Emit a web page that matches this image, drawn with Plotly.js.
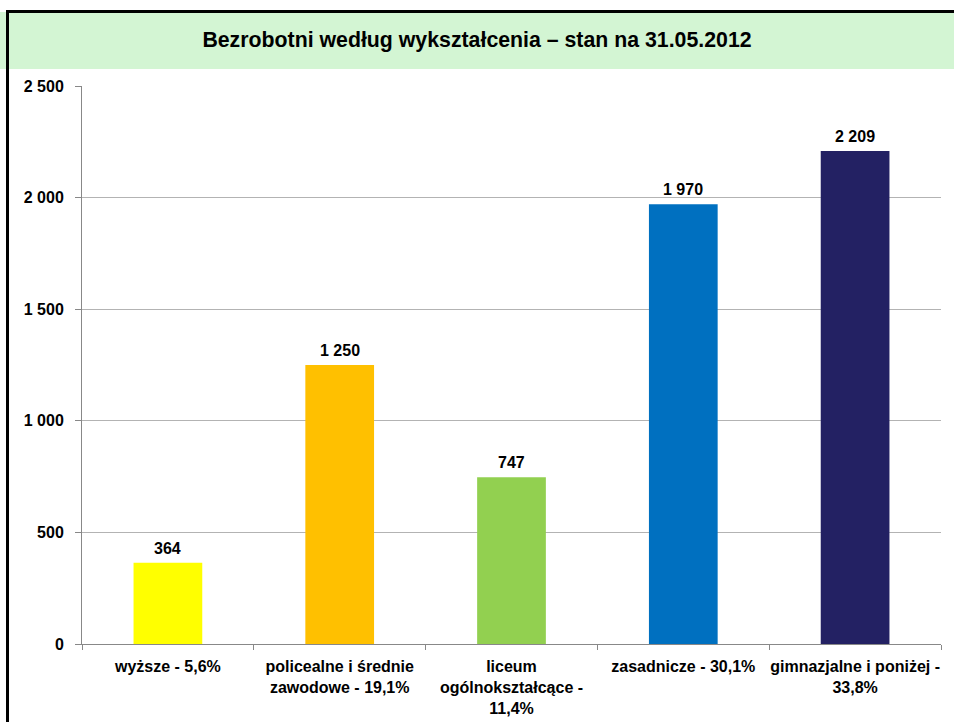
<!DOCTYPE html>
<html>
<head>
<meta charset="utf-8">
<script src="https://cdn.plot.ly/plotly-3.0.1.min.js"></script>
<style>html,body{margin:0;padding:0;background:#fff;}#chart{width:954px;height:722px;}</style>
</head>
<body>
<div id="chart"></div>
<script>
const categories = ["wyższe - 5,6%", "policealne i średnie<br>zawodowe - 19,1%", "liceum<br>ogólnokształcące -<br>11,4%", "zasadnicze - 30,1%", "gimnazjalne i poniżej -<br>33,8%"];
const values = [364, 1250, 747, 1970, 2209];
const colors = ["#FFFF00", "#FFC000", "#92D050", "#0070C0", "#232163"];
const yTicks = [0, 500, 1000, 1500, 2000, 2500];
const yTickLabels = ["0", "500", "1 000", "1 500", "2 000", "2 500"];
const valueLabels = values.map(v => v >= 1000 ? String(v).replace(/(\d)(\d{3})$/, "$1 $2") : String(v));

const font = "Liberation Sans, Arial, sans-serif";
const trace = {
  type: "bar",
  x: categories,
  y: values,
  marker: {color: colors},
  width: 0.4,
  hoverinfo: "none"
};
const annotations = categories.map((c, i) => ({
  x: c, y: values[i], xref: "x", yref: "y",
  text: "<b>" + valueLabels[i] + "</b>",
  showarrow: false, yanchor: "bottom", yshift: 4,
  font: {family: font, size: 16, color: "#000"}
}));
const H = 558, W = 859;
const layout = {
  width: 954, height: 722,
  margin: {l: 82, r: 13, t: 86, b: 78},
  paper_bgcolor: "#fff", plot_bgcolor: "#fff",
  showlegend: false,
  title: {text: "<b>Bezrobotni według wykształcenia – stan na 31.05.2012</b>", font: {family: font, size: 21.3, color: "#000"}, x: 0.5, xanchor: "center", y: 1 - 40/722, yanchor: "middle"},
  xaxis: {
    type: "category",
    tickfont: {family: font, size: 16, color: "#000", weight: "bold"},
    tickangle: 0,
    showline: true, linecolor: "#888", linewidth: 1,
    ticks: "outside", ticklen: 5, tickcolor: "#888",
    tickson: "boundaries",
    ticklabelstandoff: 8,
    showgrid: false,
    fixedrange: true
  },
  yaxis: {
    range: [0, 2500],
    tickvals: yTicks, ticktext: yTickLabels,
    tickfont: {family: font, size: 16, color: "#000", weight: "bold"},
    showline: true, linecolor: "#888", linewidth: 1,
    ticks: "outside", ticklen: 6, tickcolor: "#888",
    ticklabelstandoff: 8,
    showgrid: true, gridcolor: "#b3b3b3", gridwidth: 1,
    zeroline: false,
    fixedrange: true
  },
  annotations: annotations,
  shapes: [
    {type: "rect", xref: "paper", yref: "paper", x0: -82/W, x1: 1 + 30/W, y0: 1 + (86-69)/H, y1: 1 + (86-12)/H, fillcolor: "#D3F5D3", line: {width: 0, color: "rgba(0,0,0,0)"}, layer: "below"},
    {type: "line", xref: "paper", yref: "paper", x0: -75/W, x1: 1 + 30/W, y0: 1 + (86-11.5)/H, y1: 1 + (86-11.5)/H, line: {color: "#000", width: 3}},
    {type: "line", xref: "paper", yref: "paper", x0: -74.5/W, x1: -74.5/W, y0: 1 + (86-10)/H, y1: -80/H, line: {color: "#000", width: 3}}
  ]
};
Plotly.newPlot("chart", [trace], layout, {displayModeBar: false, staticPlot: true});
</script>
</body>
</html>
